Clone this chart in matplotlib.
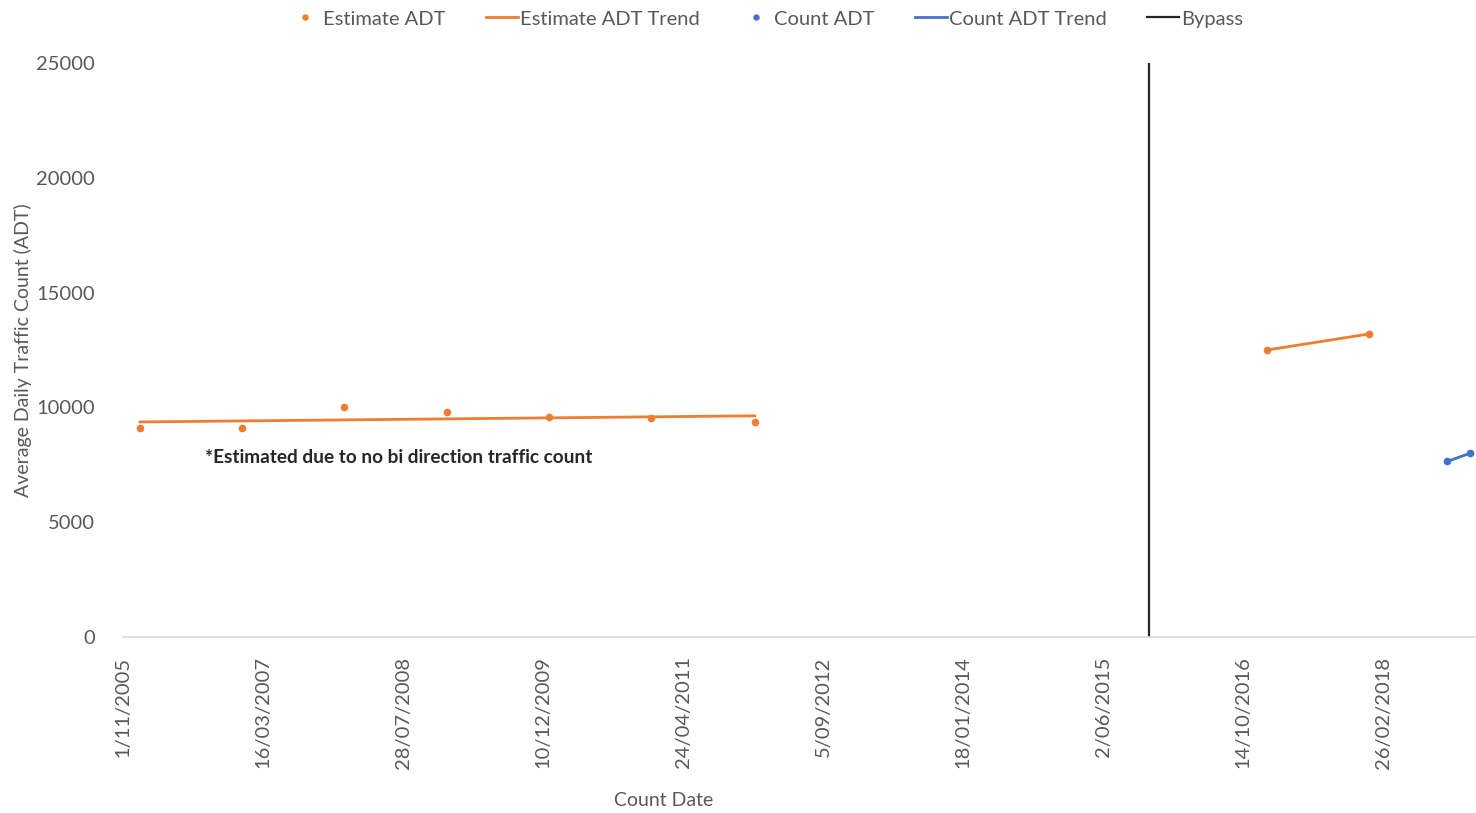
import numpy as np
import pandas as pd
import matplotlib
matplotlib.use('Agg')
import matplotlib.pyplot as plt
import matplotlib.dates as mdates

plt.rcParams['font.family'] = ['Lato', 'DejaVu Sans']

# data
est_dates = pd.to_datetime(['2006-01-01', '2007-01-01', '2008-01-01', '2009-01-01',
                            '2010-01-01', '2011-01-01', '2012-01-05'])
est_adt = [9100, 9100, 10000, 9800, 9600, 9550, 9350]

est2_dates = pd.to_datetime(['2017-01-08', '2018-01-08'])
est2_adt = [12500, 13200]

count_dates = pd.to_datetime(['2018-10-14', '2019-01-02'])
count_adt = [7650, 8000]

bypass_date = pd.Timestamp('2015-11-13')

tick_start = pd.Timestamp('2005-11-01')
tick_step_days = 500

ORANGE = '#ED7D31'
BLUE = '#4472C4'
GREY = '#595959'

fig = plt.figure(figsize=(14.76, 8.13), dpi=100)
ax = fig.add_axes([123 / 1476, 1 - 637 / 813, 1 - 123 / 1476, (637 - 63) / 813])

# linear trend of the first estimate block
xnum = mdates.date2num(est_dates)
k, b = np.polyfit(xnum, est_adt, 1)
trend_x = np.array([xnum[0], xnum[-1]])

ax.plot(est_dates, est_adt, 'o', color=ORANGE, ms=4.5, label='Estimate ADT', zorder=3)
ax.plot(mdates.num2date(trend_x), k * trend_x + b, '-', color=ORANGE, lw=2,
        label='Estimate ADT Trend')
ax.plot(est2_dates, est2_adt, 'o', color=ORANGE, ms=4.5, zorder=3)
ax.plot(est2_dates, est2_adt, '-', color=ORANGE, lw=2)
ax.plot(count_dates, count_adt, 'o', color=BLUE, ms=4.5, label='Count ADT', zorder=3)
ax.plot(count_dates, count_adt, '-', color=BLUE, lw=2, label='Count ADT Trend')
ax.axvline(bypass_date, color='#262626', lw=1.6, label='Bypass')

ax.set_ylim(0, 25000)
ax.set_yticks(range(0, 25001, 5000))
ax.set_xlim(tick_start, tick_start + pd.Timedelta(days=4832))
ticks = [tick_start + pd.Timedelta(days=tick_step_days * i) for i in range(10)]
ax.set_xticks(ticks)
ax.set_xticklabels([f'{t.day}/{t.month:02d}/{t.year}' for t in ticks], rotation=90)

for s in ['top', 'right', 'left']:
    ax.spines[s].set_visible(False)
ax.spines['bottom'].set_color('#D9D9D9')
ax.spines['bottom'].set_linewidth(1.2)
ax.tick_params(axis='both', length=0, labelsize=14.5, labelcolor=GREY)
ax.tick_params(axis='x', pad=14)
ax.tick_params(axis='y', pad=20)

ax.text(pd.Timestamp('2006-08-21'), 7800, '*Estimated due to no bi direction traffic count',
        fontsize=13.7, fontweight='bold', color='#262626', va='center', ha='left')

ax.set_ylabel('Average Daily Traffic Count (ADT)', fontsize=14, color=GREY)
ax.yaxis.set_label_coords(-0.067, 0.5)
fig.text(664 / 1476, 1 - 800 / 813, 'Count Date', fontsize=14, color=GREY,
         ha='center', va='center')

leg = fig.legend(loc='center', bbox_to_anchor=(766 / 1476, 1 - 19 / 813), ncol=5,
                 frameon=False, fontsize=14.5, handlelength=1.6, handletextpad=0.1,
                 columnspacing=2.0, markerscale=0.8)
for t in leg.get_texts():
    t.set_color(GREY)

plt.savefig('out.png')
plt.close()
